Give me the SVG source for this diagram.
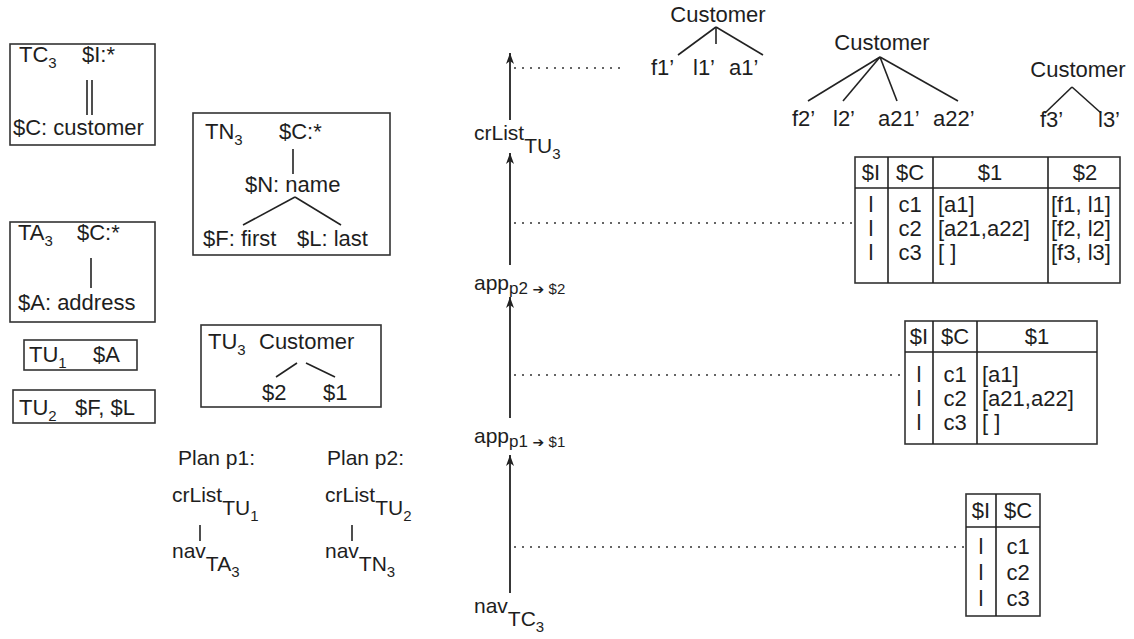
<svg xmlns="http://www.w3.org/2000/svg" width="1134" height="639" viewBox="0 0 1134 639">
<defs>
<marker id="ah" markerWidth="12" markerHeight="12" viewBox="0 0 12 12" refX="11" refY="6" orient="auto" markerUnits="userSpaceOnUse">
<path d="M0,2 L11,6 L0,10 L3,6 z" fill="#222"/>
</marker>
</defs>
<style>
text { font-family: "Liberation Sans", Arial, sans-serif; font-size: 22px; fill: #1e1e1e; }
.s { font-size: 15px; }
.m { font-size: 21px; }
.t { font-size: 22px; }
.ar { font-family: "DejaVu Sans", sans-serif; font-size: 14px; }
.box { fill: #fff; stroke: #333; stroke-width: 1.6; }
.ln { stroke: #222; stroke-width: 1.6; fill: none; }
.dot { stroke: #333; stroke-width: 1.6; stroke-dasharray: 2 6; fill: none; }
.arr { stroke: #222; stroke-width: 1.8; fill: none; marker-end: url(#ah); }
</style>
<rect width="1134" height="639" fill="#fff"/>

<g id="TC3">
<rect class="box" x="10" y="44" width="145" height="101"/>
<text x="19" y="62">TC<tspan class="s" dy="6">3</tspan></text>
<text x="82" y="62">$I:*</text>
<line class="ln" x1="87" y1="80" x2="87" y2="115"/>
<line class="ln" x1="92" y1="80" x2="92" y2="115"/>
<text x="13" y="135">$C: customer</text>
</g>

<g id="TN3">
<rect class="box" x="193" y="113" width="197" height="142"/>
<text x="205" y="139">TN<tspan class="s" dy="6">3</tspan></text>
<text x="279" y="139">$C:*</text>
<line class="ln" x1="293" y1="149" x2="293" y2="174"/>
<text x="245" y="192">$N: name</text>
<line class="ln" x1="295" y1="197" x2="243" y2="225"/>
<line class="ln" x1="295" y1="197" x2="341" y2="225"/>
<text x="203" y="246">$F: first</text>
<text x="297" y="246">$L: last</text>
</g>

<g id="TA3">
<rect class="box" x="10" y="222" width="145" height="100"/>
<text x="18" y="240">TA<tspan class="s" dy="6">3</tspan></text>
<text x="77" y="240">$C:*</text>
<line class="ln" x1="91" y1="258" x2="91" y2="288"/>
<text x="18" y="310">$A: address</text>
</g>

<g id="TU1">
<rect class="box" x="24" y="340" width="113" height="30"/>
<text x="29" y="362">TU<tspan class="s" dy="6">1</tspan></text>
<text x="93" y="362">$A</text>
</g>

<g id="TU2">
<rect class="box" x="13" y="390" width="142" height="33"/>
<text x="19" y="415">TU<tspan class="s" dy="6">2</tspan></text>
<text x="75" y="415">$F, $L</text>
</g>

<g id="TU3">
<rect class="box" x="201" y="325" width="180" height="82"/>
<text x="208" y="349">TU<tspan class="s" dy="6">3</tspan></text>
<text x="259" y="349">Customer</text>
<line class="ln" x1="297" y1="363" x2="276" y2="377"/>
<line class="ln" x1="306" y1="363" x2="335" y2="377"/>
<text x="262" y="400">$2</text>
<text x="323" y="400">$1</text>
</g>

<g id="plan-p1">
<text x="178" y="465" class="m">Plan p1:</text>
<text x="172" y="502" class="m">crList<tspan dy="13">TU</tspan><tspan class="s" dy="6">1</tspan></text>
<line class="ln" x1="200" y1="525" x2="200" y2="541"/>
<text x="172" y="558" class="m">nav<tspan dy="13">TA</tspan><tspan class="s" dy="6">3</tspan></text>
</g>

<g id="plan-p2">
<text x="327" y="465" class="m">Plan p2:</text>
<text x="325" y="502" class="m">crList<tspan dy="13">TU</tspan><tspan class="s" dy="6">2</tspan></text>
<line class="ln" x1="352" y1="525" x2="352" y2="541"/>
<text x="325" y="558" class="m">nav<tspan dy="13">TN</tspan><tspan class="s" dy="6">3</tspan></text>
</g>

<g id="labels-center">
<text x="474" y="140" class="m">crList<tspan dy="13">TU</tspan><tspan class="s" dy="6">3</tspan></text>
<text x="474" y="290" class="m">app<tspan font-size="17" dy="4">p2</tspan><tspan class="ar"> ➔ </tspan><tspan font-size="15">$2</tspan></text>
<text x="474" y="443" class="m">app<tspan font-size="17" dy="4">p1</tspan><tspan class="ar"> ➔ </tspan><tspan font-size="15">$1</tspan></text>
<text x="474" y="613" class="m">nav<tspan dy="13">TC</tspan><tspan class="s" dy="6">3</tspan></text>
</g>

<g id="connectors">
<line class="arr" x1="510" y1="120" x2="510" y2="53"/>
<line class="arr" x1="510" y1="265" x2="510" y2="153"/>
<line class="arr" x1="510" y1="418" x2="510" y2="297"/>
<line class="arr" x1="510" y1="593" x2="510" y2="455"/>
<line class="dot" x1="514" y1="68" x2="622" y2="68"/>
<line class="dot" x1="514" y1="223" x2="852" y2="223"/>
<line class="dot" x1="514" y1="375" x2="903" y2="375"/>
<line class="dot" x1="514" y1="547" x2="964" y2="547"/>
</g>

<g id="tree1">
<text x="718" y="22" text-anchor="middle">Customer</text>
<line class="ln" x1="716" y1="27" x2="678" y2="55"/>
<line class="ln" x1="716" y1="27" x2="716" y2="44"/>
<line class="ln" x1="716" y1="27" x2="763" y2="55"/>
<text x="651" y="75">f1’</text>
<text x="693" y="75">l1’</text>
<text x="729" y="75">a1’</text>
</g>

<g id="tree2">
<text x="882" y="50" text-anchor="middle">Customer</text>
<line class="ln" x1="880" y1="57" x2="808" y2="101"/>
<line class="ln" x1="880" y1="57" x2="843" y2="101"/>
<line class="ln" x1="880" y1="57" x2="897" y2="101"/>
<line class="ln" x1="880" y1="57" x2="958" y2="101"/>
<text x="792" y="126">f2’</text>
<text x="833" y="126">l2’</text>
<text x="878" y="126">a21’</text>
<text x="933" y="126">a22’</text>
</g>

<g id="tree3">
<text x="1078" y="77" text-anchor="middle">Customer</text>
<line class="ln" x1="1072" y1="87" x2="1045" y2="113"/>
<line class="ln" x1="1072" y1="87" x2="1101" y2="113"/>
<text x="1040" y="127">f3’</text>
<text x="1098" y="127">l3’</text>
</g>

<g id="table3">
<rect class="box" x="855" y="157" width="265" height="126"/>
<line class="ln" x1="888" y1="157" x2="888" y2="283"/>
<line class="ln" x1="933" y1="157" x2="933" y2="283"/>
<line class="ln" x1="1048" y1="157" x2="1048" y2="283"/>
<line class="ln" x1="855" y1="188" x2="1120" y2="188"/>
<text x="871" y="180" text-anchor="middle" class="t">$I</text>
<text x="910" y="180" text-anchor="middle" class="t">$C</text>
<text x="990" y="180" text-anchor="middle" class="t">$1</text>
<text x="1085" y="180" text-anchor="middle" class="t">$2</text>
<text x="871" y="212" text-anchor="middle" class="t">l</text>
<text x="871" y="236" text-anchor="middle" class="t">l</text>
<text x="871" y="260" text-anchor="middle" class="t">l</text>
<text x="910" y="212" text-anchor="middle" class="t">c1</text>
<text x="910" y="236" text-anchor="middle" class="t">c2</text>
<text x="910" y="260" text-anchor="middle" class="t">c3</text>
<text x="938" y="212" class="t">[a1]</text>
<text x="938" y="236" class="t">[a21,a22]</text>
<text x="938" y="260" class="t">[ ]</text>
<text x="1051" y="212" class="t">[f1, l1]</text>
<text x="1051" y="236" class="t">[f2, l2]</text>
<text x="1051" y="260" class="t">[f3, l3]</text>
</g>

<g id="table2">
<rect class="box" x="905" y="321" width="192" height="123"/>
<line class="ln" x1="933" y1="321" x2="933" y2="444"/>
<line class="ln" x1="977" y1="321" x2="977" y2="444"/>
<line class="ln" x1="905" y1="352" x2="1097" y2="352"/>
<text x="919" y="344" text-anchor="middle" class="t">$I</text>
<text x="955" y="344" text-anchor="middle" class="t">$C</text>
<text x="1037" y="344" text-anchor="middle" class="t">$1</text>
<text x="919" y="382" text-anchor="middle" class="t">l</text>
<text x="919" y="406" text-anchor="middle" class="t">l</text>
<text x="919" y="430" text-anchor="middle" class="t">l</text>
<text x="955" y="382" text-anchor="middle" class="t">c1</text>
<text x="955" y="406" text-anchor="middle" class="t">c2</text>
<text x="955" y="430" text-anchor="middle" class="t">c3</text>
<text x="982" y="382" class="t">[a1]</text>
<text x="982" y="406" class="t">[a21,a22]</text>
<text x="982" y="430" class="t">[ ]</text>
</g>

<g id="table1">
<rect class="box" x="966" y="494" width="74" height="122"/>
<line class="ln" x1="996" y1="494" x2="996" y2="616"/>
<line class="ln" x1="966" y1="527" x2="1040" y2="527"/>
<text x="981" y="518" text-anchor="middle" class="t">$I</text>
<text x="1018" y="518" text-anchor="middle" class="t">$C</text>
<text x="981" y="554" text-anchor="middle" class="t">l</text>
<text x="981" y="580" text-anchor="middle" class="t">l</text>
<text x="981" y="606" text-anchor="middle" class="t">l</text>
<text x="1018" y="554" text-anchor="middle" class="t">c1</text>
<text x="1018" y="580" text-anchor="middle" class="t">c2</text>
<text x="1018" y="606" text-anchor="middle" class="t">c3</text>
</g>
</svg>
